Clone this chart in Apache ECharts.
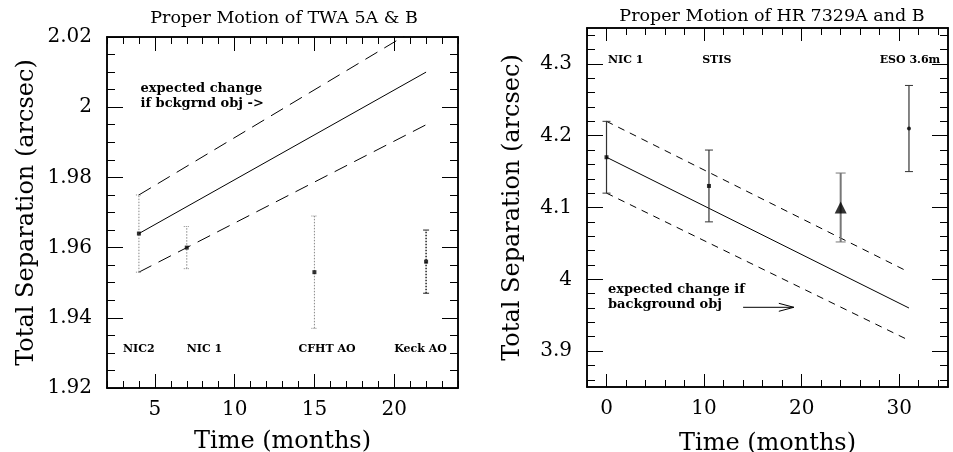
<!DOCTYPE html>
<html><head><meta charset="utf-8">
<script src="https://cdn.jsdelivr.net/npm/echarts@6/dist/echarts.min.js"></script>
<style>html,body{margin:0;padding:0;background:#fff}#c{width:953px;height:452px}</style>
</head><body><div id="c"></div>
<script>
// ---------- Left panel: TWA 5A & B ----------
const twaTitle = 'Proper Motion of TWA 5A & B';
const twaTime = [4, 7, 15, 22];
const twaSep = [1.964, 1.960, 1.953, 1.956];
const twaErr = [0.011, 0.006, 0.016, 0.009];
const twaInstruments = ['NIC2', 'NIC 1', 'CFHT AO', 'Keck AO'];
const twaInstrumentX = [3, 7, 14, 20];
const twaInstrumentY = 1.931;
const twaLineX = [4, 22];
const twaLineMid = [1.964, 2.010];
const twaLineHigh = [1.975, 2.024];
const twaLineLow = [1.953, 1.995];
const twaNote = 'expected change\nif bckgrnd obj ->';
const twaNotePos = [4.1, 2.0031];
const twaXRange = [2, 24];
const twaYRange = [1.92, 2.02];
const twaXMajor = [5, 10, 15, 20];
const twaYMajor = [1.92, 1.94, 1.96, 1.98, 2.00, 2.02];

// ---------- Right panel: HR 7329A and B ----------
const hrTitle = 'Proper Motion of HR 7329A and B';
const hrTime = [0, 10.5, 24, 31];
const hrSep = [4.17, 4.13, 4.10, 4.21];
const hrErr = [0.05, 0.05, 0.048, 0.06];
const hrInstruments = ['NIC 1', 'STIS', 'ESO 3.6m'];
const hrInstrumentX = [0.15, 9.8, 28.0];
const hrInstrumentY = 4.305;
const hrLineX = [0, 31];
const hrLineMid = [4.17, 3.96];
const hrLineHigh = [4.22, 4.01];
const hrLineLow = [4.12, 3.915];
const hrNote = 'expected change if\nbackground obj';
const hrNotePos = [0.15, 3.975];
const hrArrowX = [14.0, 19.2];
const hrArrowY = 3.961;
const hrXRange = [-2, 35];
const hrYRange = [3.85, 4.35];
const hrXMajor = [0, 10, 20, 30];
const hrYMajor = [3.9, 4.0, 4.1, 4.2, 4.3];

// tick helpers (positions only)
function steps(a, b, s) { const r = []; for (let v = a; v <= b + 1e-9; v += s) r.push(+v.toFixed(4)); return r; }
const twaXMinor = steps(2, 24, 1);
const twaYMinor = steps(1.92, 2.02, 0.005);
const hrXMinor = steps(-2, 34, 2);
const hrYMinor = steps(3.86, 4.34, 0.02);

const SERIF = 'DejaVu Serif';
const fmt = v => String(+(+v).toFixed(3));

function axis(grid, pos, range, ticks, len, withLabels, name, nameGap, labelMargin) {
  return {
    type: 'value', gridIndex: grid, position: pos, min: range[0], max: range[1],
    axisLine: { show: true, onZero: false, lineStyle: { color: '#000', width: 1.5 } },
    axisTick: { show: true, inside: true, length: len, customValues: ticks, lineStyle: { color: '#000', width: 1 } },
    axisLabel: withLabels ? { show: true, customValues: ticks, margin: labelMargin, color: '#000', fontFamily: SERIF, fontSize: 20, formatter: fmt } : { show: false },
    splitLine: { show: false }, minorTick: { show: false }, splitArea: { show: false },
    name: name || '', nameLocation: 'middle', nameGap: nameGap || 0,
    nameTextStyle: { color: '#000', fontFamily: SERIF, fontSize: 24 },
    axisPointer: { show: false }
  };
}

const xAxes = [
  axis(0, 'bottom', twaXRange, twaXMajor, 14, true, 'Time (months)', 42, 12),
  axis(0, 'bottom', twaXRange, twaXMinor, 7, false),
  axis(0, 'top', twaXRange, twaXMajor, 14, false),
  axis(0, 'top', twaXRange, twaXMinor, 7, false),
  axis(1, 'bottom', hrXRange, hrXMajor, 13, true, 'Time (months)', 45, 12),
  axis(1, 'bottom', hrXRange, hrXMinor, 7, false),
  axis(1, 'top', hrXRange, hrXMajor, 13, false),
  axis(1, 'top', hrXRange, hrXMinor, 7, false)
];
const yAxes = [
  axis(0, 'left', twaYRange, twaYMajor, 16, true, 'Total Separation (arcsec)', 68, 15),
  axis(0, 'left', twaYRange, twaYMinor, 8, false),
  axis(0, 'right', twaYRange, twaYMajor, 16, false),
  axis(0, 'right', twaYRange, twaYMinor, 8, false),
  axis(1, 'left', hrYRange, hrYMajor, 16, true, 'Total Separation (arcsec)', 62, 15),
  axis(1, 'left', hrYRange, hrYMinor, 8, false),
  axis(1, 'right', hrYRange, hrYMajor, 16, false),
  axis(1, 'right', hrYRange, hrYMinor, 8, false)
];

function lineSeries(ai, xs, ys, dash, width) {
  return {
    type: 'line', xAxisIndex: ai, yAxisIndex: ai, data: xs.map((x, i) => [x, ys[i]]),
    symbol: 'none', silent: true, clip: true, z: 2,
    lineStyle: { color: '#000', width: width || 1, type: dash || 'solid' }
  };
}

function errorBars(ai, xs, ys, errs, styleOf) {
  return {
    type: 'custom', xAxisIndex: ai, yAxisIndex: ai, silent: true, z: 3,
    data: xs.map((x, i) => [x, ys[i] - errs[i], ys[i] + errs[i], i]),
    encode: { x: 0, y: [1, 2] },
    renderItem(params, api) {
      const lo = api.coord([api.value(0), api.value(1)]);
      const hi = api.coord([api.value(0), api.value(2)]);
      const st = styleOf(api.value(3));
      const common = { stroke: st.color, lineWidth: st.width, lineDash: st.dash };
      return {
        type: 'group', children: [
          { type: 'line', shape: { x1: lo[0], y1: lo[1], x2: hi[0], y2: hi[1] }, style: common },
          { type: 'line', shape: { x1: lo[0] - st.cap, y1: lo[1], x2: lo[0] + st.cap, y2: lo[1] }, style: { stroke: st.color, lineWidth: 1, lineDash: st.capDash } },
          { type: 'line', shape: { x1: hi[0] - st.cap, y1: hi[1], x2: hi[0] + st.cap, y2: hi[1] }, style: { stroke: st.color, lineWidth: 1, lineDash: st.capDash } }
        ]
      };
    }
  };
}

function textSeries(ai, items, font, align) {
  return {
    type: 'custom', xAxisIndex: ai, yAxisIndex: ai, silent: true, z: 5, clip: false,
    data: items.map(it => [it[0], it[1]]),
    renderItem(params, api) {
      const p = api.coord([api.value(0), api.value(1)]);
      const t = items[params.dataIndex][2];
      return { type: 'text', x: p[0], y: p[1], style: { text: t, font: font, fill: '#000', textAlign: align || 'left', textVerticalAlign: 'middle', lineHeight: 15 } };
    }
  };
}

const series = [
  // left
  lineSeries(0, twaLineX, twaLineMid, 'solid', 1),
  lineSeries(0, twaLineX, twaLineHigh, [14, 8], 1),
  lineSeries(0, twaLineX, twaLineLow, [14, 8], 1),
  errorBars(0, twaTime, twaSep, twaErr, i => i === 3
    ? { color: '#222', width: 1.5, dash: [1.5, 1.5], cap: 3, capDash: null }
    : { color: '#888', width: 1, dash: [1.5, 1.5], cap: 3, capDash: [1, 1] }),
  {
    type: 'scatter', xAxisIndex: 0, yAxisIndex: 0, silent: true, z: 4,
    data: twaTime.map((x, i) => [x, twaSep[i]]), symbol: 'rect', symbolSize: 4,
    itemStyle: { color: '#000' }
  },
  textSeries(0, twaInstruments.map((t, i) => [twaInstrumentX[i], twaInstrumentY, t]), 'bold 11px "DejaVu Serif"'),
  textSeries(0, [[twaNotePos[0], twaNotePos[1], twaNote]], 'bold 13px "DejaVu Serif"'),
  // right
  lineSeries(4, hrLineX, hrLineMid, 'solid', 1),
  lineSeries(4, hrLineX, hrLineHigh, [7, 6], 1),
  lineSeries(4, hrLineX, hrLineLow, [7, 6], 1),
  errorBars(4, hrTime, hrSep, hrErr, i => i === 2
    ? { color: '#777', width: 2, dash: null, cap: 5, capDash: null }
    : { color: '#333', width: 1.2, dash: null, cap: 4, capDash: null }),
  {
    type: 'scatter', xAxisIndex: 4, yAxisIndex: 4, silent: true, z: 4,
    data: hrTime.map((x, i) => ({
      value: [x, hrSep[i]],
      symbol: i === 2 ? 'triangle' : (i === 3 ? 'circle' : 'rect'),
      symbolSize: i === 2 ? 12 : 4
    })),
    itemStyle: { color: '#000' }
  },
  textSeries(4, hrInstruments.map((t, i) => [hrInstrumentX[i], hrInstrumentY, t]), 'bold 11px "DejaVu Serif"'),
  textSeries(4, [[hrNotePos[0], hrNotePos[1], hrNote]], 'bold 13px "DejaVu Serif"'),
  {
    type: 'custom', xAxisIndex: 4, yAxisIndex: 4, silent: true, z: 5,
    data: [[hrArrowX[0], hrArrowY, hrArrowX[1]]],
    renderItem(params, api) {
      const a = api.coord([api.value(0), api.value(1)]);
      const b = api.coord([api.value(2), api.value(1)]);
      return {
        type: 'group', children: [
          { type: 'line', shape: { x1: a[0], y1: a[1], x2: b[0], y2: b[1] }, style: { stroke: '#000', lineWidth: 1 } },
          { type: 'polyline', shape: { points: [[b[0] - 15, a[1] - 4], [b[0], a[1]], [b[0] - 15, a[1] + 4]] }, style: { stroke: '#000', lineWidth: 1, fill: null } }
        ]
      };
    }
  }
];

const option = {
  backgroundColor: '#fff',
  animation: false,
  title: [
    { text: twaTitle, left: 279, top: 4, textAlign: 'center', textStyle: { fontFamily: SERIF, fontWeight: 'normal', fontSize: 17.5, color: '#000' } },
    { text: hrTitle, left: 767, top: 2, textAlign: 'center', textStyle: { fontFamily: SERIF, fontWeight: 'normal', fontSize: 17.5, color: '#000' } }
  ],
  grid: [
    { left: 107, top: 37, width: 351, height: 351, containLabel: false, outerBoundsMode: 'none' },
    { left: 587, top: 28, width: 361, height: 359, containLabel: false, outerBoundsMode: 'none' }
  ],
  xAxis: xAxes,
  yAxis: yAxes,
  series: series
};

const chart = echarts.init(document.getElementById('c'), null, { renderer: 'canvas' });
chart.setOption(option);
</script>
</body></html>
